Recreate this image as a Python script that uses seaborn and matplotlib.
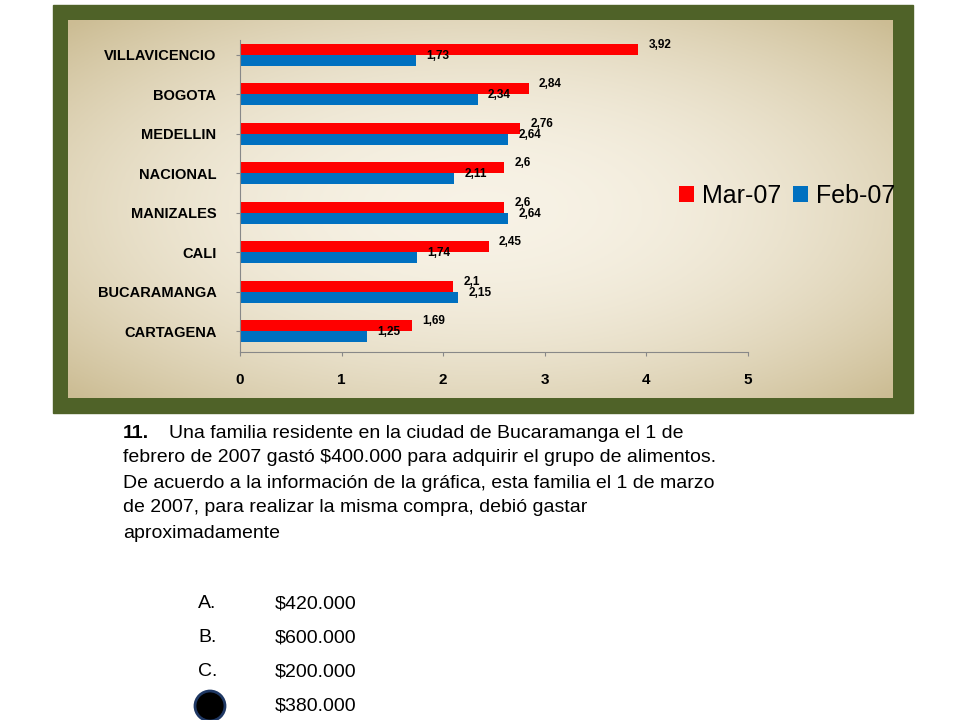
import numpy as np
import pandas as pd
import matplotlib
matplotlib.use("Agg")
import matplotlib.pyplot as plt
import seaborn as sns
from matplotlib.patches import Rectangle, Circle

plt.rcParams['font.family'] = 'Liberation Sans'

# datos de la grafica
ciudades = ['VILLAVICENCIO', 'BOGOTA', 'MEDELLIN', 'NACIONAL', 'MANIZALES',
            'CALI', 'BUCARAMANGA', 'CARTAGENA']
mar07 = [3.92, 2.84, 2.76, 2.6, 2.6, 2.45, 2.1, 1.69]
feb07 = [1.73, 2.34, 2.64, 2.11, 2.64, 1.74, 2.15, 1.25]
series = ['Mar-07', 'Feb-07']
colores = {'Mar-07': '#ff0000', 'Feb-07': '#0070c0'}

df = pd.DataFrame({'Ciudad': ciudades * 2,
                   'Serie': ['Mar-07'] * 8 + ['Feb-07'] * 8,
                   'Valor': mar07 + feb07})

W, H = 960, 720
fig = plt.figure(figsize=(9.6, 7.2), dpi=100)
fig.patch.set_facecolor('white')

# marco verde
fig.add_artist(Rectangle((53 / W, 1 - 413 / H), 860 / W, 408 / H,
                         transform=fig.transFigure, color='#4f6228', zorder=0))
# panel beige con degradado
axbg = fig.add_axes([68 / W, 1 - 398 / H, 825 / W, 378 / H], zorder=1)
yy, xx = np.mgrid[-1:1:200j, -1:1:200j]
r = np.clip(np.sqrt(xx ** 2 + yy ** 2) / 1.4, 0, 1)
c0 = np.array([0.97, 0.95, 0.90])
c1 = np.array([0.80, 0.74, 0.58])
img = c0[None, None, :] * (1 - r[..., None] ** 2) + c1[None, None, :] * r[..., None] ** 2
axbg.imshow(img, aspect='auto', extent=[0, 1, 0, 1])
axbg.axis('off')

ax = fig.add_axes([240 / W, 1 - 352 / H, 508 / W, 312 / H], zorder=2)
ax.patch.set_alpha(0)
sns.barplot(data=df, y='Ciudad', x='Valor', hue='Serie', hue_order=series,
            palette=colores, orient='h', width=0.56, ax=ax, saturation=1)
ax.set_xlim(0, 5)
ax.set_ylim(7.53, -0.37)
ax.set_xticks(range(6))
ax.set_xlabel('')
ax.set_ylabel('')
for s in ['top', 'right']:
    ax.spines[s].set_visible(False)
ax.spines['left'].set_color('#888888')
ax.spines['bottom'].set_color('#888888')
ax.tick_params(axis='y', labelsize=10.5, length=3, pad=14, colors='#888888', labelcolor='black')
ax.tick_params(axis='x', labelsize=11, length=3, pad=12, colors='#888888', labelcolor='black')
for lab in ax.get_xticklabels() + ax.get_yticklabels():
    lab.set_fontweight('bold')

for cont in ax.containers:
    for bar in cont:
        v = bar.get_width()
        txt = ('%g' % v).replace('.', ',')
        ax.text(v + 0.1, bar.get_y() + bar.get_height() * 0.1, txt,
                fontsize=8.5, fontweight='bold', va='center', ha='left')

ax.legend(loc='center left', bbox_to_anchor=(0.82, 0.5), ncol=2, frameon=False,
          fontsize=18, handlelength=0.6, handleheight=0.6, handletextpad=0.3,
          columnspacing=0.5)

# texto de la pregunta
lineas = ['Una familia residente en la ciudad de Bucaramanga el 1 de',
          'febrero de 2007 gastó $400.000 para adquirir el grupo de alimentos.',
          'De acuerdo a la información de la gráfica, esta familia el 1 de marzo',
          'de 2007, para realizar la misma compra, debió gastar',
          'aproximadamente']
fig.text(123 / W, 1 - 433 / H, '11.', fontsize=14, fontweight='bold', va='center')
fig.text(169 / W, 1 - 433 / H, lineas[0], fontsize=14, va='center')
for i, l in enumerate(lineas[1:]):
    fig.text(123 / W, 1 - (458 + 25 * i) / H, l, fontsize=14, va='center')

opciones = ['A.', 'B.', 'C.', 'D.']
valores = ['$420.000', '$600.000', '$200.000', '$380.000']
for i, (o, v) in enumerate(zip(opciones, valores)):
    y = 1 - (604 + 34 * i) / H
    if i < 3:
        fig.text(198 / W, y, o, fontsize=14, va='center')
    fig.text(275 / W, y, v, fontsize=14, va='center')
fig.add_artist(Circle((210, H - 706), 14, transform=None, color='black', zorder=5))
fig.add_artist(Circle((210, H - 706), 15, transform=None, fill=False, ec='#1f3864', lw=2, zorder=5))

fig.savefig('out.png', dpi=100)
